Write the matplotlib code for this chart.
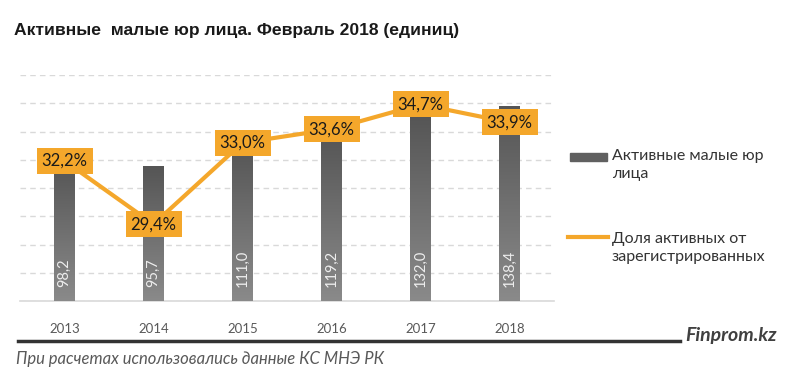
import numpy as np
import matplotlib
matplotlib.use("Agg")
import matplotlib.pyplot as plt
from matplotlib.patches import Rectangle
from matplotlib.lines import Line2D

# ------------------------------
# Data
# ------------------------------
years = ["2013", "2014", "2015", "2016", "2017", "2018"]
active = [98.2, 95.7, 111.0, 119.2, 132.0, 138.4]
share = [32.2, 29.4, 33.0, 33.6, 34.7, 33.9]

title = "Активные  малые юр лица. Февраль 2018 (единиц)"
legend_bar = "Активные малые юр\nлица"
legend_line = "Доля активных от\nзарегистрированных"
footnote = "При расчетах использовались данные КС МНЭ РК"
brand = "Finprom.kz"

ORANGE = "#F4A72B"
W, H = 800, 384


def fx(px):
    return px / W


def fy(py):
    return 1 - py / H


plt.rcParams["font.family"] = ["Lato", "DejaVu Sans"]

fig = plt.figure(figsize=(8, 3.84), dpi=100)
ax = fig.add_axes([fx(20), fy(301), fx(534), 226 / H])
ax2 = ax.twinx()

x = np.arange(len(years))

# ------------------------------
# Bars with a vertical grey gradient
# ------------------------------
bars = ax.bar(x, active, width=0.225, color="#6b6b6b", zorder=2)
grad = np.linspace(0, 1, 256).reshape(-1, 1)
cmap = matplotlib.colors.LinearSegmentedColormap.from_list("g", ["#8a8a8a", "#555555"])
for b in bars:
    x0, w, h = b.get_x(), b.get_width(), b.get_height()
    im = ax.imshow(grad, extent=[x0, x0 + w, 0, h], aspect="auto",
                   cmap=cmap, origin="lower", zorder=3)
    im.set_clip_path(b)

for xi, v in zip(x, active):
    ax.annotate(f"{v:.1f}".replace(".", ","), (xi, 0), xytext=(0, 10),
                textcoords="offset points", rotation=90, ha="center",
                va="bottom", color="#eeeeee", fontsize=10.5, zorder=5)

ax.set_xlim(-0.5, 5.5)
ax.set_ylim(0, 160)
ax.set_yticks(np.arange(0, 161, 20))
ax.yaxis.grid(True, color="#d9d9d9", linestyle=(0, (4, 3)), linewidth=1)
ax.set_axisbelow(True)
ax.tick_params(left=False, labelleft=False, bottom=False)
ax.set_xticks(x)
ax.set_xticklabels(years, fontsize=9.5, color="#595959")
ax.tick_params(axis="x", pad=12)
for s in ["top", "right", "left"]:
    ax.spines[s].set_visible(False)
ax.spines["bottom"].set_color("#d9d9d9")
ax.spines["bottom"].set_linewidth(1.2)

# ------------------------------
# Share line with boxed labels
# ------------------------------
ax2.plot(x, share, color=ORANGE, linewidth=3, zorder=4)
for xi, p in zip(x, share):
    ax2.text(xi, p, f"{p:.1f}%".replace(".", ","), ha="center", va="center",
             fontsize=12, color="#1a1a1a", zorder=6,
             bbox=dict(boxstyle="square,pad=0.3", fc=ORANGE, ec="none"))
ax2.set_ylim(26, 36)
ax2.axis("off")
ax.set_zorder(1)
ax2.set_zorder(2)

# ------------------------------
# Title, legend, footer
# ------------------------------
fig.text(fx(14), fy(30), title, fontsize=12.6, fontweight="bold",
         family=["Liberation Sans"], color="#1a1a1a", va="center")

fig.add_artist(Rectangle((fx(570), fy(161)), fx(37), 8 / H,
                         transform=fig.transFigure, color="#606060"))
fig.text(fx(612), fy(165), legend_bar, fontsize=11.5, color="#333333",
         va="center", linespacing=1.45)
fig.add_artist(Line2D([fx(568), fx(608)], [fy(237), fy(237)],
                      transform=fig.transFigure, color=ORANGE, linewidth=3))
fig.text(fx(612), fy(248), legend_line, fontsize=11.5, color="#333333",
         va="center", linespacing=1.45)

fig.add_artist(Line2D([fx(18), fx(680)], [fy(341), fy(341)],
                      transform=fig.transFigure, color="#333333", linewidth=2.5))
fig.text(fx(685), fy(335), brand, fontsize=14, fontweight="bold",
         style="italic", color="#404040", va="center")
fig.text(fx(16), fy(359), footnote, fontsize=12, style="italic",
         color="#595959", va="center")

fig.savefig("out.png", dpi=100)
